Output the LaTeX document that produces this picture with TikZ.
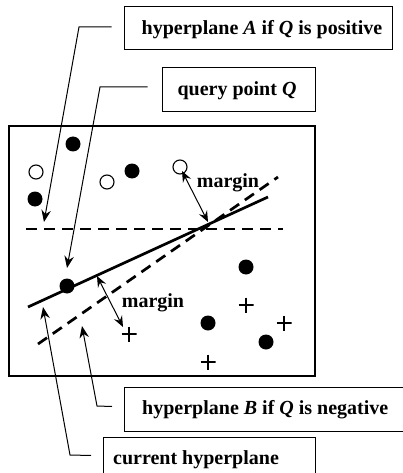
\documentclass[tikz,border=0pt]{standalone}
\usepackage{fontspec}
\setmainfont{Liberation Serif}
\usetikzlibrary{arrows.meta}
\begin{document}
\begin{tikzpicture}[x=1pt,y=-1pt,
 lbl/.style={draw, line width=1pt, fill=white, inner sep=0pt},
 txt/.style={font=\fontsize{20}{23}\selectfont\bfseries, inner sep=0pt},
 dot/.style={circle, fill=black, minimum size=15pt, inner sep=0pt},
 odot/.style={circle, draw, line width=1.1pt, fill=white, minimum size=14pt, inner sep=0pt},
 plus/.style={minimum size=15pt, inner sep=0pt,
   path picture={\draw[line width=1.2pt] (path picture bounding box.north) -- (path picture bounding box.south)
     (path picture bounding box.west) -- (path picture bounding box.east);}},
 leader/.style={line width=1pt, -{Stealth[length=12pt,width=9.5pt,inset=4pt]}},
 marg/.style={line width=1pt, {Stealth[length=11pt,width=9pt,inset=4pt]}-{Stealth[length=11pt,width=9pt,inset=4pt]}},
 hp/.style={line width=2.7pt},
 hdash/.style={line width=2.7pt, dash pattern=on 11pt off 7pt}]
\useasboundingbox (0,0) rectangle (403,473);
\clip (0,0) rectangle (403,473);
\fill[white] (0,0) rectangle (403,473);
% frame
\draw[line width=1.2pt] (9,126) rectangle (315,376);
% hyperplanes
\coordinate (h1) at (26,229); \coordinate (h2) at (283,229);
\coordinate (c1) at (28,307); \coordinate (c2) at (268,197);
\coordinate (b1) at (38,344); \coordinate (b2) at (278,177);
\draw[hdash] (h1) -- (h2);
\draw[hdash] (b1) -- (b2);
\draw[hp] (c1) -- (c2);
% points
\node[dot] (p1) at (73,144) {};
\node[dot] (p2) at (132,171) {};
\node[dot] (p3) at (35,199) {};
\node[dot] (p4) at (246,267) {};
\node[dot] (Q) at (67,286) {};
\node[dot] (p5) at (208,323) {};
\node[dot] (p6) at (266,342) {};
\node[odot] (o1) at (36,172) {};
\node[odot] (o2) at (107,182) {};
\node[odot] (o3) at (180,167) {};
\node[plus] (x1) at (246,305) {};
\node[plus] (x2) at (284,323) {};
\node[plus] (x3) at (129,334) {};
\node[plus] (x4) at (208,362) {};
% margins
\coordinate (m1a) at (182,171); \coordinate (m1b) at (208,222);
\coordinate (m2a) at (97,276); \coordinate (m2b) at (123,327);
\draw[marg] (m1a) -- (m1b);
\draw[marg] (m2a) -- (m2b);
\node[txt] (mt1) at (228,183) {margin};
\node[txt] (mt2) at (153,303) {margin};
% boxes
\node[lbl, minimum width=268pt, minimum height=43pt] (bA) at (258,28.5) {};
\node[txt] (tA) at (262,30) {hyperplane \textit{A} if \textit{Q} is positive};
\node[lbl, minimum width=153pt, minimum height=44pt] (bQ) at (238.5,90) {};
\node[txt] (tQ) at (237,91) {query point \textit{Q}};
\node[lbl, minimum width=300pt, minimum height=44pt, anchor=north west] (bB) at (124,387) {};
\node[txt, anchor=west] (tB) at (142,410) {hyperplane \textit{B} if \textit{Q} is negative};
\node[lbl, minimum width=212pt, minimum height=46pt, anchor=north west] (bC) at (103,437) {};
\node[txt, anchor=west] (tC) at (113,460) {current hyperplane};
% leaders
\coordinate (ka) at (79,27); \coordinate (ta) at (44,222);
\coordinate (kq) at (100,87); \coordinate (tq) at (67,268);
\coordinate (kb) at (97,406); \coordinate (tb) at (82,326);
\coordinate (kc) at (70,455); \coordinate (tc) at (43,307);
\draw[leader] ([xshift=-12pt,yshift=1.5pt]bA.west) -- (ka) -- (ta);
\draw[leader] ([xshift=-14pt,yshift=3pt]bQ.west) -- (kq) -- (tq);
\draw[leader] ([xshift=-12pt,yshift=3pt]bB.west) -- (kb) -- (tb);
\draw[leader] ([xshift=-12pt,yshift=5pt]bC.west) -- (kc) -- (tc);
\end{tikzpicture}
\end{document}
